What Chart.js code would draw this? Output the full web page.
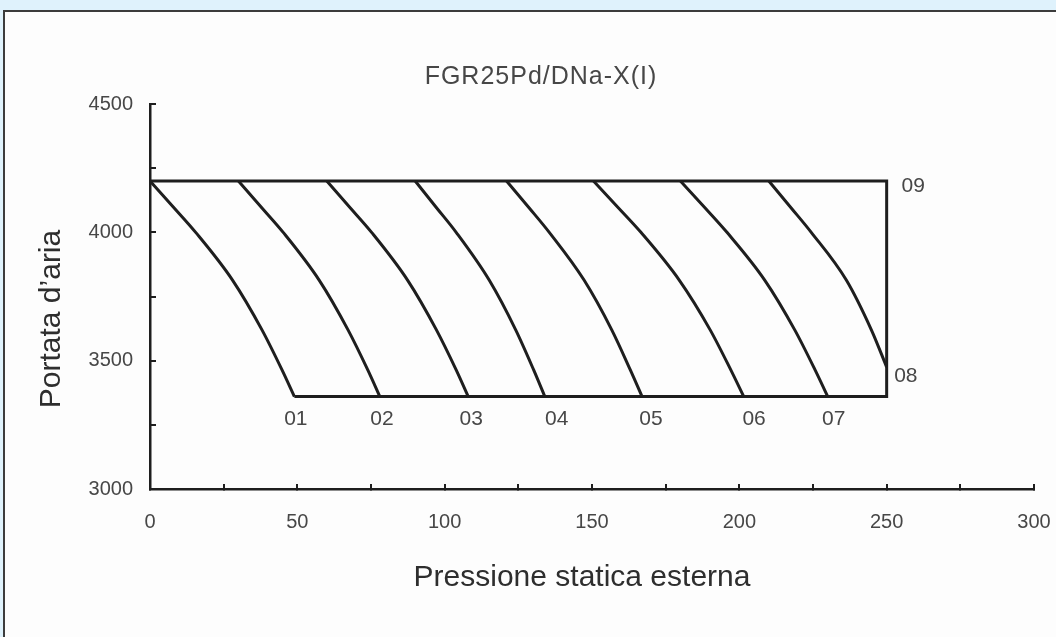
<!DOCTYPE html>
<html>
<head>
<meta charset="utf-8">
<script src="https://cdn.jsdelivr.net/npm/chart.js@4/dist/chart.umd.min.js"></script>
<style>
    html, body { margin: 0; padding: 0; }
    body { width: 1056px; height: 637px; background: #dff2fc; position: relative; overflow: hidden; }
    #panel { position: absolute; left: 3px; top: 10px; right: 0; bottom: 0; background: #fdfdfd; border-top: 2px solid #3c3c3c; border-left: 2px solid #3c3c3c; }
    #fanChart { position: absolute; left: 0; top: 0; }
</style>
</head>
<body>
<div id="panel"></div>
<canvas id="fanChart" width="1056" height="637"></canvas>
<script>
// Fan curves: air flow (y) against external static pressure (x)
const chartTitle = 'FGR25Pd/DNa-X(I)';
const xTitle = 'Pressione statica esterna';
const yTitle = 'Portata d\u2019aria';

// Air flow levels where every curve was read
const airflow = [4200, 4095, 4000, 3814, 3620, 3464, 3360];
const airflow08 = [4200, 4095, 4000, 3814, 3620, 3475];

// Static pressure of each speed curve at those levels
const curve01 = [0, 8.2, 15.5, 28, 38, 44.8, 49];
const curve02 = [30, 38, 45.2, 57.4, 67.2, 73.9, 78];
const curve03 = [60, 68, 75.2, 87.4, 97.2, 103.9, 108];
const curve04 = [90, 97.3, 103.9, 115.1, 124.1, 130.2, 134];
const curve05 = [121, 128.7, 135.5, 147.3, 156.7, 163, 167];
const curve06 = [150.5, 159, 166.6, 179.6, 190.1, 197.1, 201.5];
const curve07 = [180, 188.4, 195.8, 208.6, 218.8, 225.7, 230];
const curve08 = [210, 217.6, 224.4, 236.3, 244.8, 250];

// Working area limits
const limitX = [49, 250, 250, 0];
const limitY = [3360, 3360, 4200, 4200];

// Curve names and where they are written
const curveNames = ['01', '02', '03', '04', '05', '06', '07', '08', '09'];
const nameX = [49.5, 78.7, 109, 138, 170, 205, 232, 256.5, 259];
const nameY = [3271, 3271, 3271, 3271, 3271, 3271, 3271, 3440, 4178];

const lineColor = '#1e1e1e';
const textColor = '#474747';

function toPoints(xs, ys) {
    return xs.map((x, i) => ({ x: x, y: ys[i] }));
}

function curveDataset(xs, ys) {
    return {
        data: toPoints(xs, ys),
        showLine: true,
        borderColor: lineColor,
        borderWidth: 3,
        pointRadius: 0,
        cubicInterpolationMode: 'monotone',
        fill: false
    };
}

const curves = [curve01, curve02, curve03, curve04, curve05, curve06, curve07];
const datasets = curves.map(c => curveDataset(c, airflow));
datasets.push(curveDataset(curve08, airflow08));
datasets.push({
    data: toPoints(limitX, limitY),
    showLine: true,
    borderColor: lineColor,
    borderWidth: 3,
    pointRadius: 0,
    tension: 0,
    fill: false
});

// Titles and curve names
const textPlugin = {
    id: 'fanText',
    afterDraw(chart) {
        const ctx = chart.ctx;
        const xs = chart.scales.x;
        const ys = chart.scales.y;
        ctx.save();
        ctx.textAlign = 'center';
        ctx.textBaseline = 'middle';

        ctx.fillStyle = textColor;
        ctx.font = '25px "Liberation Sans", Arial, sans-serif';
        ctx.letterSpacing = '1px';
        ctx.fillText(chartTitle, 541, 77);
        ctx.letterSpacing = '0px';

        ctx.font = '21px "Liberation Sans", Arial, sans-serif';
        curveNames.forEach((name, i) => {
            ctx.fillText(name, xs.getPixelForValue(nameX[i]), ys.getPixelForValue(nameY[i]));
        });

        ctx.fillStyle = '#2e2e2e';
        ctx.font = '30px "Liberation Sans", Arial, sans-serif';
        ctx.fillText(xTitle, 582, 578);

        ctx.translate(52, 319);
        ctx.rotate(-Math.PI / 2);
        ctx.fillText(yTitle, 0, 0);
        ctx.restore();
    }
};

new Chart(document.getElementById('fanChart'), {
    type: 'scatter',
    data: { datasets: datasets },
    options: {
        responsive: false,
        animation: false,
        devicePixelRatio: 1,
        layout: {
            padding: { left: 0, top: 104, right: 22, bottom: 88 }
        },
        plugins: {
            legend: { display: false },
            tooltip: { enabled: false }
        },
        scales: {
            x: {
                type: 'linear',
                min: 0,
                max: 300,
                afterFit: scale => {
                    scale.height = 60;
                    scale.paddingLeft = 0;
                    scale.paddingRight = 0;
                },
                border: { color: lineColor, width: 2.5 },
                grid: {
                    drawOnChartArea: false,
                    drawTicks: true,
                    tickLength: -5,
                    color: lineColor,
                    lineWidth: 2
                },
                ticks: {
                    stepSize: 25,
                    padding: 26,
                    maxRotation: 0,
                    color: textColor,
                    font: { family: '"Liberation Sans", Arial, sans-serif', size: 20 },
                    callback: v => (v % 50 === 0 ? String(v) : '')
                }
            },
            y: {
                type: 'linear',
                min: 3000,
                max: 4500,
                afterFit: scale => {
                    scale.width = 150;
                    scale.paddingTop = 0;
                    scale.paddingBottom = 0;
                },
                border: { color: lineColor, width: 2.5 },
                grid: {
                    drawOnChartArea: false,
                    drawTicks: true,
                    tickLength: -6,
                    color: lineColor,
                    lineWidth: 2
                },
                ticks: {
                    stepSize: 250,
                    padding: 23,
                    color: textColor,
                    font: { family: '"Liberation Sans", Arial, sans-serif', size: 20 },
                    callback: v => (v % 500 === 0 ? String(v) : '')
                }
            }
        }
    },
    plugins: [textPlugin]
});
</script>
</body>
</html>
